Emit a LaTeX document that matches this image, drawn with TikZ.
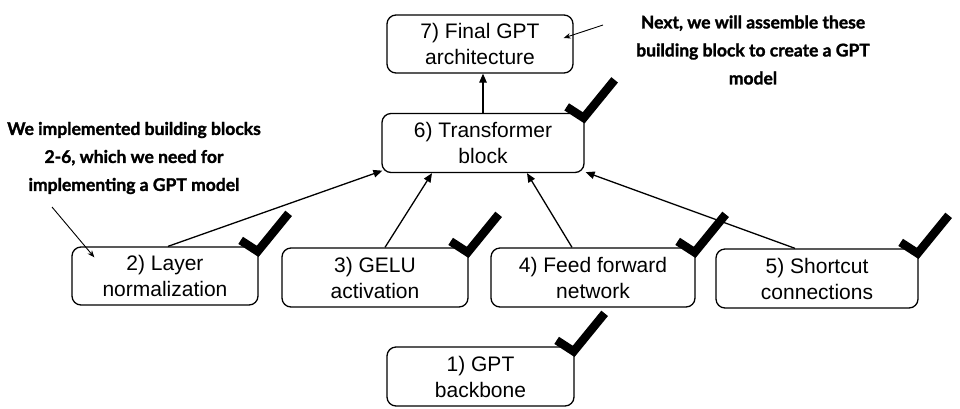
\documentclass[tikz,border=0pt]{standalone}
\usepackage{fontspec}
\setmainfont{Liberation Sans}
\newfontfamily\notefont[BoldFeatures={FakeBold=1.6}]{Lato}
\usetikzlibrary{arrows.meta}
\begin{document}
\begin{tikzpicture}[x=1pt,y=-1pt,
  blk/.style={draw, line width=1.3pt, rounded corners=9pt, align=center,
    inner sep=0pt, font=\fontsize{21}{26}\selectfont},
  conn/.style={-{Triangle[length=9pt,width=7.5pt]}, line width=1.3pt},
  notearrow/.style={-{Stealth[length=7pt,width=5.5pt]}, line width=0.9pt},
  note/.style={align=center, inner sep=0pt,
    font=\notefont\bfseries\fontsize{17.5}{28}\selectfont},
  chkmark/.pic={\draw[line width=8.5pt, line join=miter, line cap=butt]
    (-17,-11) -- (0,0) -- (31,-38);}]
\useasboundingbox (0,0) rectangle (960,408);

\node[blk, minimum width=186pt, minimum height=58pt] (b7) at (480,44) {7) Final GPT\\architecture};
\node[blk, minimum width=202pt, minimum height=59pt] (b6) at (483,143) {6) Transformer\\block};
\node[blk, minimum width=186pt, minimum height=58pt] (b2) at (165,276) {2) Layer\\normalization};
\node[blk, minimum width=186pt, minimum height=59pt] (b3) at (375,277.5) {3) GELU\\activation};
\node[blk, minimum width=204pt, minimum height=59pt] (b4) at (593,277.5) {4) Feed forward\\network};
\node[blk, minimum width=202pt, minimum height=59pt] (b5) at (817,278.5) {5) Shortcut\\connections};
\node[blk, minimum width=187pt, minimum height=59pt] (b1) at (480.5,376.5) {1) GPT\\backbone};

\node[note] (n1) at (134,158) {We implemented building blocks\\2-6, which we need for\\implementing a GPT model};
\node[note] (n2) at (753,50) {Next, we will assemble these\\building block to create a GPT\\model};

% connectors
\draw[conn] (b6.north) -- (b6.north |- b7.south);
\draw[conn] ([xshift=3pt]b2.north) -- ([xshift=1pt,yshift=2.5pt]b6.south west);
\draw[conn] ([xshift=10pt]b3.north) -- ([xshift=-51pt]b6.south);
\draw[conn] ([xshift=-21pt]b4.north) -- ([xshift=44pt]b6.south);
\draw[conn] ([xshift=-22pt]b5.north) -- ([xshift=1pt,yshift=1pt]b6.south east);

\coordinate (a1) at (52,207);
\coordinate (a2) at (603,25);
\draw[notearrow] (a1) -- ([xshift=23pt,yshift=-11pt]b2.north west);
\draw[notearrow] (a2) -- ([xshift=-10pt,yshift=6pt]b7.east);

% check marks
\foreach \b in {b1,b2,b3,b4,b5,b6}
  \pic at ([xshift=-1pt,yshift=-5pt]\b.north east) {chkmark};
\end{tikzpicture}
\end{document}
